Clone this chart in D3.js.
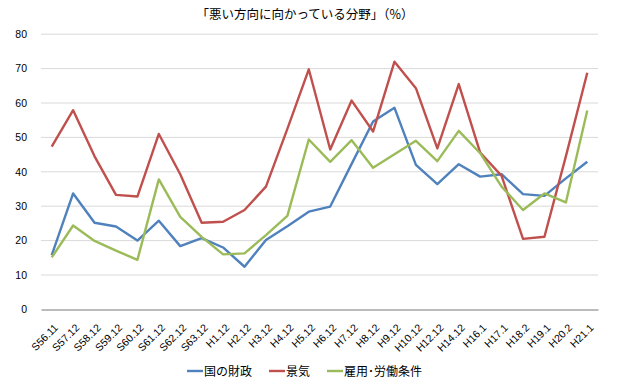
<!DOCTYPE html>
<html><head><meta charset="utf-8">
<script src="https://cdn.jsdelivr.net/npm/d3@7"></script>
<style>body{margin:0;background:#fff}svg{display:block}</style>
</head><body>
<svg id="c" width="617" height="385"></svg>
<script>
const categories = ["S56.11","S57.12","S58.12","S59.12","S60.12","S61.12","S62.12","S63.12","H1.12","H2.12","H3.12","H4.12","H5.12","H6.12","H7.12","H8.12","H9.12","H10.12","H12.12","H14.12","H16.1","H17.1","H18.2","H19.1","H20.2","H21.1"];
const finance = [15.8,33.7,25.2,24.1,20.0,25.8,18.4,20.7,18.0,12.4,20.2,24.2,28.4,29.9,42.3,54.6,58.6,42.0,36.4,42.2,38.6,39.3,33.5,33.0,38.1,42.9];
const economy = [47.3,57.9,44.5,33.3,32.8,51.0,39.3,25.2,25.5,28.9,35.7,52.5,69.8,46.5,60.7,51.7,72.0,64.3,46.8,65.5,45.6,38.8,20.5,21.1,44.5,68.8];
const employment = [15.1,24.4,19.9,17.1,14.4,37.8,26.9,21.1,16.0,16.3,21.6,27.2,49.4,42.9,49.2,41.2,45.1,49.0,43.1,51.9,45.4,35.7,28.9,33.7,31.1,57.8];
const seriesNames = ["国の財政","景気","雇用･労働条件"];
const seriesColors = ["#4f81bd","#c0504d","#9bbb59"];
const yTicks = [0,10,20,30,40,50,60,70,80];
const title = "「悪い方向に向かっている分野」（%）";

const svg = d3.select("#c");
const L = 41, R = 598, T = 34.2, B = 309.4;
const x = d3.scaleBand().domain(categories).range([L, R]);
const y = d3.scaleLinear().domain([0, 80]).range([B, T]);
const jp = "'Noto Sans CJK JP', sans-serif";

svg.append("text").attr("x", 305).attr("y", 19).attr("text-anchor", "middle")
  .attr("font-family", jp).attr("font-size", 12.5).attr("fill", "#000").text(title);

// gridlines
svg.append("g").selectAll("line").data(yTicks.filter(d => d > 0)).join("line")
  .attr("x1", L).attr("x2", R).attr("y1", d => y(d)).attr("y2", d => y(d))
  .attr("stroke", "#d9d9d9").attr("stroke-width", 1);

// y axis labels
const yAxis = d3.axisLeft(y).tickValues(yTicks).tickSize(0).tickPadding(0);
const gy = svg.append("g").attr("transform", "translate(27,0)").call(yAxis);
gy.select(".domain").remove();
gy.selectAll("text").attr("font-family", "'Liberation Sans', Arial, sans-serif").attr("font-size", 10.5).attr("fill", "#000");

// x axis
const xAxis = d3.axisBottom(x).tickSize(0).tickPadding(0);
const gx = svg.append("g").attr("transform", `translate(0,${B})`).call(xAxis);
gx.select(".domain").attr("stroke", "#a6a6a6").attr("stroke-width", 1.5);
gx.selectAll("text")
  .attr("font-family", "'Liberation Sans', Arial, sans-serif").attr("font-size", 10.5).attr("fill", "#000")
  .attr("text-anchor", "end").attr("dy", 0)
  .attr("transform", "translate(7,19) rotate(-45)");

const line = d3.line().x((d, i) => x(categories[i]) + x.bandwidth() / 2).y(d => y(d));
[finance, economy, employment].forEach((s, k) => {
  svg.append("path").datum(s).attr("d", line).attr("fill", "none")
    .attr("stroke", seriesColors[k]).attr("stroke-width", 2.4).attr("stroke-linejoin", "round");
});

// legend
const legX = [187, 269, 327];
const lg = svg.append("g");
seriesNames.forEach((n, k) => {
  lg.append("line").attr("x1", legX[k]).attr("x2", legX[k] + 16).attr("y1", 371).attr("y2", 371)
    .attr("stroke", seriesColors[k]).attr("stroke-width", 2.4);
  lg.append("text").attr("x", legX[k] + 17).attr("y", 375.5).attr("font-family", jp)
    .attr("font-size", 12).attr("fill", "#000").text(n);
});
</script>
</body></html>
